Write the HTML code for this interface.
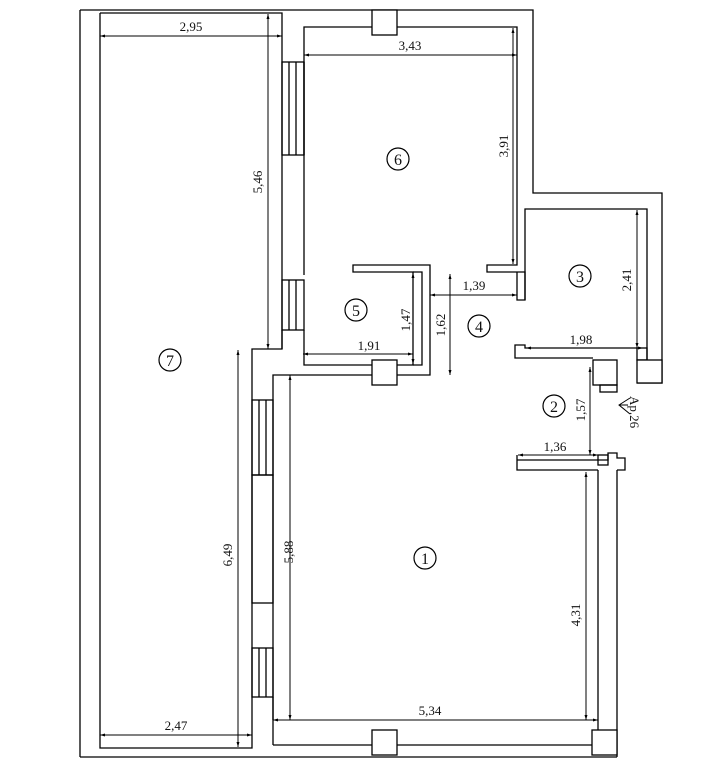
<!DOCTYPE html>
<html><head><meta charset="utf-8"><style>
html,body{margin:0;padding:0;background:#fff;}
svg{display:block;}
text{font-family:"Liberation Serif",serif;font-size:13px;fill:#111;}
.n{font-size:16px;text-anchor:middle;}
</style></head><body>
<svg width="725" height="768" viewBox="0 0 725 768" xmlns="http://www.w3.org/2000/svg">
<defs>
<marker id="a" viewBox="0 0 10 10" refX="10" refY="5" markerWidth="7" markerHeight="5" orient="auto-start-reverse"><path d="M0,2 L10,5 L0,8z" fill="#000"/></marker>
</defs>
<g fill="none" stroke="#000" stroke-width="1.3">
<polyline points="80,10 533,10 533,193 662,193 662,383 637,383"/>
<line x1="80" y1="10" x2="80" y2="757"/>
<line x1="80" y1="757" x2="617" y2="757"/>
<line x1="617" y1="470" x2="617" y2="757"/>
<polyline points="100,13 282,13 282,349 252,349 252,748 100,748 100,13"/>
<polyline points="304,155 304,27 517,27 517,265 487,265 487,272 525,272 525,300 517,300 517,272"/>
<line x1="304" y1="62" x2="304" y2="155"/>
<line x1="304" y1="155" x2="304" y2="275"/>
<rect x="282" y="62" width="22" height="93"/>
<line x1="289" y1="62" x2="289" y2="155"/><line x1="296" y1="62" x2="296" y2="155"/>
<rect x="282" y="280" width="22" height="50"/>
<line x1="289" y1="280" x2="289" y2="330"/><line x1="296" y1="280" x2="296" y2="330"/>
<polyline points="282,330 282,349"/>
<polyline points="304,330 304,365 413,365 413,272 353,272 353,265 430,265 430,375 273,375 273,720"/>
<polyline points="413,272 422,272 422,365 413,365"/>
<rect x="372" y="10" width="25" height="25" fill="#fff"/>
<rect x="372" y="360" width="25" height="25" fill="#fff"/>
<rect x="372" y="730" width="25" height="25" fill="#fff"/>
<rect x="592" y="730" width="25" height="25" fill="#fff"/>
<rect x="252" y="400" width="21" height="75"/>
<line x1="259" y1="400" x2="259" y2="475"/><line x1="266" y1="400" x2="266" y2="475"/>
<rect x="252" y="475" width="21" height="128"/>
<rect x="252" y="648" width="21" height="49"/>
<line x1="259" y1="648" x2="259" y2="697"/><line x1="266" y1="648" x2="266" y2="697"/>
<line x1="273" y1="697" x2="273" y2="745"/>
<polyline points="273,745 372,745"/><polyline points="397,745 592,745"/>
<line x1="598" y1="470" x2="598" y2="730"/>
<polyline points="525,300 525,209 647,209 647,360"/>
<polyline points="637,348 525,348 525,345 515,345 515,358 593,358"/>
<rect x="637" y="348" width="10" height="12"/>
<rect x="637" y="360" width="25" height="23" fill="#fff"/>
<rect x="593" y="360" width="24" height="25" fill="#fff"/>
<rect x="600" y="385" width="17" height="7"/>
<polyline points="517,455 517,470 598,470"/>
<polyline points="517,460 608,460 608,453 617,453 617,458 625,458 625,470 617,470"/>
<rect x="598" y="455" width="10" height="10"/>
</g>
<g stroke="#000" stroke-width="1" marker-start="url(#a)" marker-end="url(#a)">
<line x1="100" y1="36" x2="282" y2="36"/>
<line x1="268" y1="14" x2="268" y2="349"/>
<line x1="238" y1="350" x2="238" y2="747"/>
<line x1="100" y1="735" x2="252" y2="735"/>
<line x1="304" y1="55" x2="517" y2="55"/>
<line x1="513" y1="28" x2="513" y2="264"/>
<line x1="303" y1="354" x2="413" y2="354"/>
<line x1="413" y1="273" x2="413" y2="364"/>
<line x1="450" y1="274" x2="450" y2="375"/>
<line x1="430" y1="295" x2="517" y2="295"/>
<line x1="526" y1="348" x2="643" y2="348"/>
<line x1="637" y1="210" x2="637" y2="348"/>
<line x1="590" y1="367" x2="590" y2="455"/>
<line x1="518" y1="455" x2="598" y2="455"/>
<line x1="290" y1="375" x2="290" y2="720"/>
<line x1="586" y1="472" x2="586" y2="720"/>
<line x1="273" y1="720" x2="598" y2="720"/>
</g>
<g>
<text x="191" y="31" text-anchor="middle">2,95</text>
<text x="410" y="50" text-anchor="middle">3,43</text>
<text x="176" y="730" text-anchor="middle">2,47</text>
<text x="430" y="715" text-anchor="middle">5,34</text>
<text x="369" y="350" text-anchor="middle">1,91</text>
<text x="474" y="290" text-anchor="middle">1,39</text>
<text x="581" y="344" text-anchor="middle">1,98</text>
<text x="555" y="451" text-anchor="middle">1,36</text>
<text transform="translate(262,182) rotate(-90)" text-anchor="middle">5,46</text>
<text transform="translate(508,146) rotate(-90)" text-anchor="middle">3,91</text>
<text transform="translate(232,555) rotate(-90)" text-anchor="middle">6,49</text>
<text transform="translate(293,552) rotate(-90)" text-anchor="middle">5,88</text>
<text transform="translate(410,320) rotate(-90)" text-anchor="middle">1,47</text>
<text transform="translate(445,325) rotate(-90)" text-anchor="middle">1,62</text>
<text transform="translate(631,280) rotate(-90)" text-anchor="middle">2,41</text>
<text transform="translate(585,410) rotate(-90)" text-anchor="middle">1,57</text>
<text transform="translate(580,615) rotate(-90)" text-anchor="middle">4,31</text>
<text transform="translate(630,412) rotate(90)" text-anchor="middle">Ар.26</text>
</g>
<polyline points="630,398 619,405 630,414" fill="none" stroke="#000" stroke-width="1"/>
<line x1="619" y1="405" x2="628" y2="405" stroke="#000" stroke-width="1"/>
<g fill="none" stroke="#000" stroke-width="1.2">
<circle cx="170" cy="360" r="11"/><circle cx="398" cy="159" r="11"/>
<circle cx="356" cy="310" r="11"/><circle cx="479" cy="326" r="11"/>
<circle cx="580" cy="276" r="11"/><circle cx="554" cy="406" r="11"/>
<circle cx="425" cy="558" r="11"/>
</g>
<g>
<text class="n" x="170" y="366">7</text><text class="n" x="398" y="165">6</text>
<text class="n" x="356" y="316">5</text><text class="n" x="479" y="332">4</text>
<text class="n" x="580" y="282">3</text><text class="n" x="554" y="412">2</text>
<text class="n" x="425" y="564">1</text>
</g>
</svg>
</body></html>
